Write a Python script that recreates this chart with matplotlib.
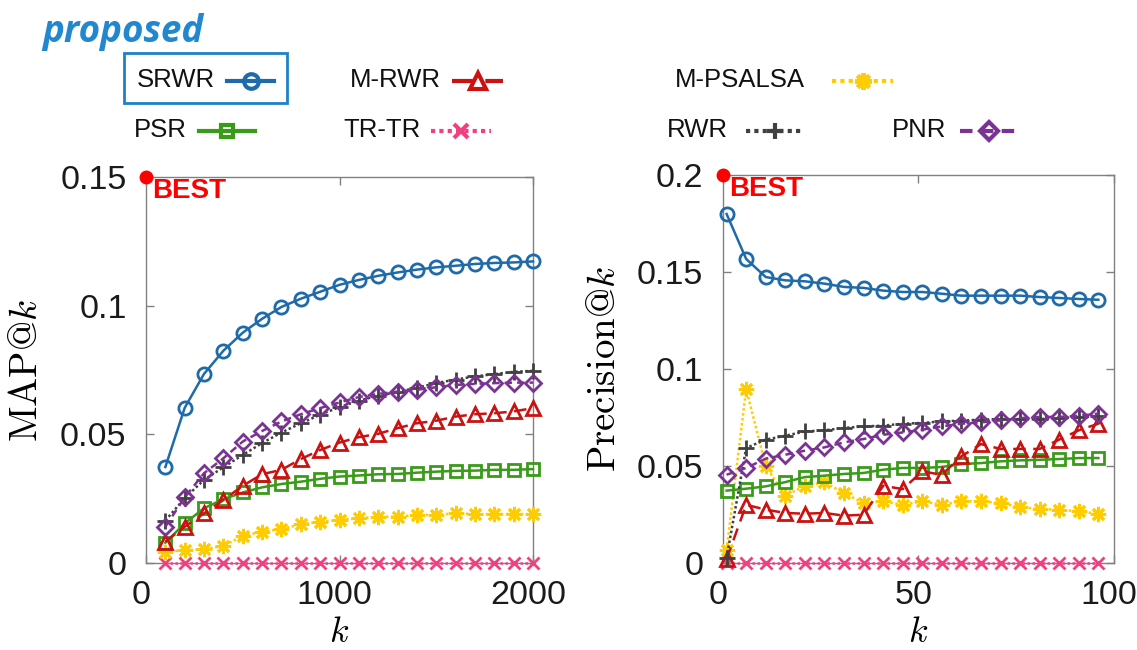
import numpy as np
import matplotlib
matplotlib.use("Agg")
import matplotlib.pyplot as plt
import matplotlib.transforms as mtransforms
from matplotlib.lines import Line2D
from matplotlib.patches import Rectangle

plt.rcParams['font.family'] = ['Liberation Sans', 'DejaVu Sans']
plt.rcParams['mathtext.fontset'] = 'cm'

# x values
k_map = [100, 200, 300, 400, 500, 600, 700, 800, 900, 1000,
         1100, 1200, 1300, 1400, 1500, 1600, 1700, 1800, 1900, 2000]
k_prec = [1, 6, 11, 16, 21, 26, 31, 36, 41, 46,
          51, 56, 61, 66, 71, 76, 81, 86, 91, 96]

# MAP@k values (left panel)
map_srwr = [0.0373, 0.0603, 0.0735, 0.0825, 0.0895, 0.0949, 0.0995, 0.1027, 0.1054, 0.1081,
            0.1100, 0.1116, 0.1129, 0.1140, 0.1149, 0.1155, 0.1162, 0.1166, 0.1168, 0.1172]
map_mrwr = [0.0083, 0.0141, 0.0193, 0.0245, 0.0300, 0.0345, 0.0362, 0.0404, 0.0439, 0.0468,
            0.0489, 0.0502, 0.0524, 0.0543, 0.0553, 0.0569, 0.0578, 0.0582, 0.0589, 0.0602]
map_mpsalsa = [0.0044, 0.0050, 0.0053, 0.0067, 0.0105, 0.0122, 0.0132, 0.0150, 0.0161, 0.0167,
               0.0174, 0.0180, 0.0180, 0.0187, 0.0187, 0.0193, 0.0190, 0.0190, 0.0190, 0.0190]
map_psr = [0.0079, 0.0154, 0.0213, 0.0248, 0.0274, 0.0294, 0.0307, 0.0316, 0.0327, 0.0336,
           0.0340, 0.0345, 0.0346, 0.0351, 0.0355, 0.0358, 0.0359, 0.0362, 0.0362, 0.0365]
map_trtr = [0.0, 0.0, 0.0, 0.0, 0.0, 0.0, 0.0, 0.0, 0.0, 0.0,
            0.0, 0.0, 0.0, 0.0, 0.0, 0.0, 0.0, 0.0, 0.0, 0.0]
map_rwr = [0.0165, 0.0252, 0.0323, 0.0372, 0.0420, 0.0466, 0.0507, 0.0543, 0.0576, 0.0606,
           0.0631, 0.0650, 0.0665, 0.0681, 0.0699, 0.0713, 0.0725, 0.0734, 0.0743, 0.0747]
map_pnr = [0.0141, 0.0255, 0.0349, 0.0407, 0.0472, 0.0513, 0.0550, 0.0578, 0.0602, 0.0624,
           0.0645, 0.0657, 0.0666, 0.0673, 0.0683, 0.0692, 0.0696, 0.0699, 0.0701, 0.0701]

# Precision@k values (right panel)
prec_srwr = [0.1799, 0.1567, 0.1474, 0.1457, 0.1452, 0.1440, 0.1423, 0.1418, 0.1404, 0.1397,
             0.1397, 0.1388, 0.1378, 0.1378, 0.1378, 0.1378, 0.1371, 0.1366, 0.1361, 0.1357]
prec_mrwr = [0.0020, 0.0300, 0.0275, 0.0258, 0.0254, 0.0258, 0.0244, 0.0249, 0.0398, 0.0381,
             0.0472, 0.0455, 0.0550, 0.0613, 0.0588, 0.0588, 0.0588, 0.0636, 0.0684, 0.0718]
prec_mpsalsa = [0.0069, 0.0897, 0.0498, 0.0347, 0.0398, 0.0416, 0.0361, 0.0309, 0.0318, 0.0300,
                0.0318, 0.0300, 0.0318, 0.0318, 0.0309, 0.0289, 0.0278, 0.0275, 0.0266, 0.0254]
prec_psr = [0.0373, 0.0383, 0.0395, 0.0417, 0.0443, 0.0450, 0.0459, 0.0464, 0.0481, 0.0490,
            0.0490, 0.0495, 0.0510, 0.0515, 0.0524, 0.0529, 0.0532, 0.0536, 0.0541, 0.0541]
prec_trtr = [0.0, 0.0, 0.0, 0.0, 0.0, 0.0, 0.0, 0.0, 0.0, 0.0,
             0.0, 0.0, 0.0, 0.0, 0.0, 0.0, 0.0, 0.0, 0.0, 0.0]
prec_rwr = [0.0027, 0.0593, 0.0636, 0.0656, 0.0678, 0.0684, 0.0696, 0.0704, 0.0708, 0.0718,
            0.0722, 0.0730, 0.0734, 0.0739, 0.0742, 0.0742, 0.0742, 0.0747, 0.0751, 0.0756]
prec_pnr = [0.0455, 0.0490, 0.0538, 0.0558, 0.0579, 0.0596, 0.0622, 0.0639, 0.0661, 0.0673,
            0.0687, 0.0704, 0.0718, 0.0725, 0.0735, 0.0747, 0.0753, 0.0753, 0.0759, 0.0770]

methods = ['SRWR', 'M-RWR', 'M-PSALSA', 'PSR', 'TR-TR', 'RWR', 'PNR']
map_vals = [map_srwr, map_mrwr, map_mpsalsa, map_psr, map_trtr, map_rwr, map_pnr]
prec_vals = [prec_srwr, prec_mrwr, prec_mpsalsa, prec_psr, prec_trtr, prec_rwr, prec_pnr]

# style per method: color, linestyle, marker, markersize
styles = {
    'SRWR':     ('#1f6aa8', '-',  'o', 9.5),
    'M-RWR':    ('#cc1111', (0, (5, 3)), '^', 10),
    'M-PSALSA': ('#ffcc00', (0, (1, 1)), (8, 2, 0), 11),
    'PSR':      ('#3a9a1a', '-',  's', 8),
    'TR-TR':    ('#f04080', (0, (1, 1)), 'x', 9),
    'RWR':      ('#404040', (0, (1, 1)), '+', 11),
    'PNR':      ('#7b3294', (0, (3, 2)), 'D', 8),
}
draw_order = ['TR-TR', 'M-PSALSA', 'PSR', 'M-RWR', 'RWR', 'PNR', 'SRWR']

fig = plt.figure(figsize=(11.37, 6.5), dpi=100)
W, H = 1137, 650
ax1 = fig.add_axes([146 / W, 1 - 563 / H, 387 / W, 386 / H])
ax2 = fig.add_axes([722.7 / W, 1 - 563 / H, 391.3 / W, 388 / H])

# tick labels sit a few pixels left of their ticks in the reference
shift_left = mtransforms.ScaledTranslation(-5 / 100, 0, fig.dpi_scale_trans)


def draw_panel(ax, ks, vals, ymax, yticks, yticklabels, xticks, xmax, ylabel, ylab_x):
    for name in draw_order:
        i = methods.index(name)
        c, ls, mk, ms = styles[name]
        ax.plot(ks, vals[i], color=c, linestyle=ls, marker=mk, markersize=ms,
                markerfacecolor='none', markeredgewidth=2, linewidth=1.8,
                clip_on=False, zorder=3)
    ax.set_xlim(0, xmax)
    ax.set_ylim(0, ymax)
    ax.set_xticks(xticks)
    ax.set_yticks(yticks)
    ax.set_yticklabels(yticklabels)
    ax.tick_params(direction='in', top=True, right=True, length=6, width=1,
                   color='#808080', labelcolor='#1a1a1a', labelsize=24.5)
    ax.tick_params(axis='y', pad=14)
    ax.tick_params(axis='x', pad=12)
    for lab in ax.get_xticklabels():
        lab.set_transform(lab.get_transform() + shift_left)
    for sp in ax.spines.values():
        sp.set_color('#808080')
        sp.set_linewidth(1)
    ax.set_ylabel(ylabel, fontsize=28)
    ax.yaxis.set_label_coords(ylab_x, 0.5)
    ax.set_xlabel(r'$k$', fontsize=26)
    ax.xaxis.set_label_coords(0.5, -0.135)
    # BEST marker
    ax.plot([0], [ymax], 'o', color='#ff0000', markersize=9, clip_on=False, zorder=10)
    ax.annotate('BEST', xy=(0, ymax), xytext=(4.5, -1), textcoords='offset points',
                ha='left', va='top', color='#ff0000', fontsize=20, fontweight='bold')


draw_panel(ax1, k_map, map_vals, 0.15, [0, 0.05, 0.1, 0.15], ['0', '0.05', '0.1', '0.15'],
           [0, 1000, 2000], 2000, r'$\mathrm{MAP@}k$', -0.262)
draw_panel(ax2, k_prec, prec_vals, 0.2, [0, 0.05, 0.1, 0.15, 0.2],
           ['0', '0.05', '0.1', '0.15', '0.2'], [0, 50, 100], 100,
           r'$\mathrm{Precision@}k$', -0.255)

# "proposed" tag
fig.text(42 / W, 1 - 42 / H, 'proposed', color='#2188d0', fontsize=26.5,
         fontweight='bold', fontstyle='italic', family=['Open Sans', 'DejaVu Sans'],
         ha='left', va='baseline')

# legend: (label, text left x, center y, handle x0, handle x1) in pixels
legend_pos = [
    ('SRWR', 137, 80, 227, 274),
    ('M-RWR', 350, 80, 452, 503),
    ('M-PSALSA', 675, 80, 832, 893),
    ('PSR', 134, 130, 199, 255),
    ('TR-TR', 343, 130, 431, 491),
    ('RWR', 667, 130, 746, 803),
    ('PNR', 892, 130, 960, 1018),
]
for name, tx, ty, hx0, hx1 in legend_pos:
    c, ls, mk, ms = styles[name]
    fig.text(tx / W, 1 - ty / H, name, fontsize=18.5, ha='left', va='center', color='#111111')
    yy = 1 - (ty + 1) / H
    fig.add_artist(Line2D([hx0 / W, hx1 / W], [yy, yy], transform=fig.transFigure,
                          color=c, linestyle=ls, linewidth=3))
    fig.add_artist(Line2D([(hx0 + hx1) / 2 / W], [yy], transform=fig.transFigure,
                          color=c, marker=mk, markersize=ms + 1, markerfacecolor='none',
                          markeredgewidth=3, linestyle='none'))

fig.add_artist(Rectangle((124 / W, 1 - 103 / H), 163 / W, 50 / H, transform=fig.transFigure,
                         fill=False, edgecolor='#1f80c8', linewidth=2))

fig.savefig('out.png', dpi=100)
